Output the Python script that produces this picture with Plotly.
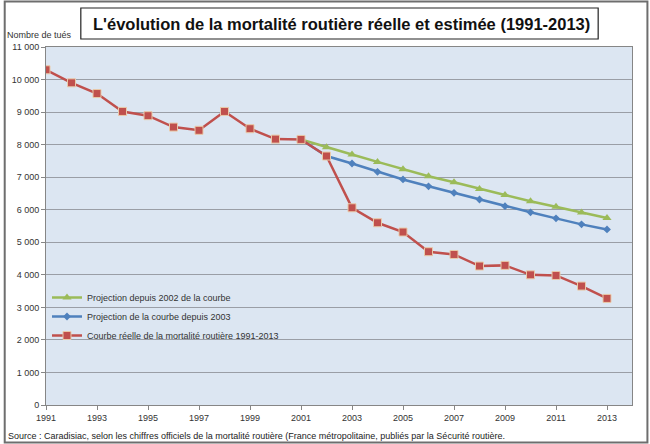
import plotly.graph_objects as go

years = list(range(1991, 2014))
reel = [10300, 9900, 9570, 9020, 8890, 8540, 8440, 9020, 8490, 8170, 8160,
        7650, 6060, 5600, 5315, 4710, 4625, 4270, 4290, 4000, 3980, 3655, 3275]
proj_years = list(range(2001, 2014))
proj_2002 = [8160, 7920, 7695, 7470, 7245, 7030, 6845, 6640, 6455, 6260, 6090, 5915, 5745]
proj_2003 = [8160, 7650, 7420, 7165, 6930, 6720, 6520, 6315, 6110, 5920, 5735, 5550, 5395]

ytick_vals = [0, 1000, 2000, 3000, 4000, 5000, 6000, 7000, 8000, 9000, 10000, 11000]
ytick_text = ["0", "1 000", "2 000", "3 000", "4 000", "5 000", "6 000", "7 000",
              "8 000", "9 000", "10 000", "11 000"]
xtick_vals = list(range(1991, 2014, 2))
xtick_text = [str(v) for v in xtick_vals]

names = ["Projection depuis 2002 de la courbe",
         "Projection de la courbe depuis 2003",
         "Courbe réelle de la mortalité routière 1991-2013"]

FONT = "Liberation Sans, Arial, sans-serif"

fig = go.Figure()
fig.add_trace(go.Scatter(x=proj_years, y=proj_2002, name=names[0], mode="lines+markers",
                         line=dict(color="#9BBB59", width=2.5),
                         marker=dict(symbol="triangle-up", size=8, color="#9BBB59")))
fig.add_trace(go.Scatter(x=proj_years, y=proj_2003, name=names[1], mode="lines+markers",
                         line=dict(color="#4F81BD", width=2.5),
                         marker=dict(symbol="diamond", size=6, color="#4F81BD")))
fig.add_trace(go.Scatter(x=years, y=reel, name=names[2], mode="lines+markers",
                         line=dict(color="#C0504D", width=2.5),
                         marker=dict(symbol="square", size=8, color="#C0504D",
                                     line=dict(color="#E9C9A8", width=1))))

L, R, T, B = 43, 18, 47, 39
W, H = 650, 444
pw, ph = W - L - R, H - T - B

def px2x(px):
    return (px - L) / pw

def py2y(py):
    return (H - B - py) / ph

fig.update_layout(
    width=W, height=H,
    margin=dict(l=L, r=R, t=T, b=B),
    paper_bgcolor="white",
    plot_bgcolor="#DCE6F2",
    showlegend=True,
    legend=dict(x=px2x(44), y=py2y(283), xanchor="left", yanchor="top",
                bgcolor="rgba(0,0,0,0)", font=dict(family=FONT, size=9, color="#333"),
                itemwidth=30, tracegroupgap=0),
    xaxis=dict(range=[1991, 2013.98], tickvals=xtick_vals, ticktext=xtick_text,
               showgrid=False, zeroline=False, showline=True, linecolor="#868686",
               mirror=True, ticks="outside", ticklen=4, tickcolor="#868686",
               tickfont=dict(family=FONT, size=9, color="#333"), fixedrange=True),
    yaxis=dict(range=[0, 11000], tickvals=ytick_vals, ticktext=ytick_text,
               showgrid=True, gridcolor="#9A9EA6", gridwidth=1, zeroline=False,
               showline=True, linecolor="#868686", mirror=True,
               ticks="outside", ticklen=4, tickcolor="#868686",
               tickfont=dict(family=FONT, size=9, color="#333"), fixedrange=True),
    shapes=[
        dict(type="rect", xref="paper", yref="paper",
             x0=px2x(1.5), x1=px2x(647.5), y0=py2y(442.5), y1=py2y(1.5),
             line=dict(color="#6E6E6E", width=2), fillcolor="rgba(0,0,0,0)", layer="below"),
        dict(type="rect", xref="paper", yref="paper",
             x0=px2x(78), x1=px2x(598), y0=py2y(39), y1=py2y(8),
             line=dict(color="#222", width=1.2), fillcolor="white"),
    ],
    annotations=[
        dict(text="<b>L'évolution de la mortalité routière réelle et estimée (1991-2013)</b>",
             xref="paper", yref="paper", x=px2x(340), y=py2y(24), xanchor="center",
             yanchor="middle", showarrow=False,
             font=dict(family=FONT, size=16.5, color="#111")),
        dict(text="Nombre de tués", xref="paper", yref="paper", x=px2x(2), y=py2y(35),
             xanchor="left", yanchor="middle", showarrow=False,
             font=dict(family=FONT, size=9, color="#333")),
        dict(text="Source : Caradisiac, selon les chiffres officiels de la mortalité routière "
                  "(France métropolitaine, publiés par la Sécurité routière.",
             xref="paper", yref="paper", x=px2x(3), y=py2y(436), xanchor="left",
             yanchor="middle", showarrow=False,
             font=dict(family=FONT, size=9, color="#222")),
    ],
)

fig.write_html("out.html", config={"displayModeBar": False},
               post_script="document.body.style.margin='0';document.body.style.overflow='hidden';")
